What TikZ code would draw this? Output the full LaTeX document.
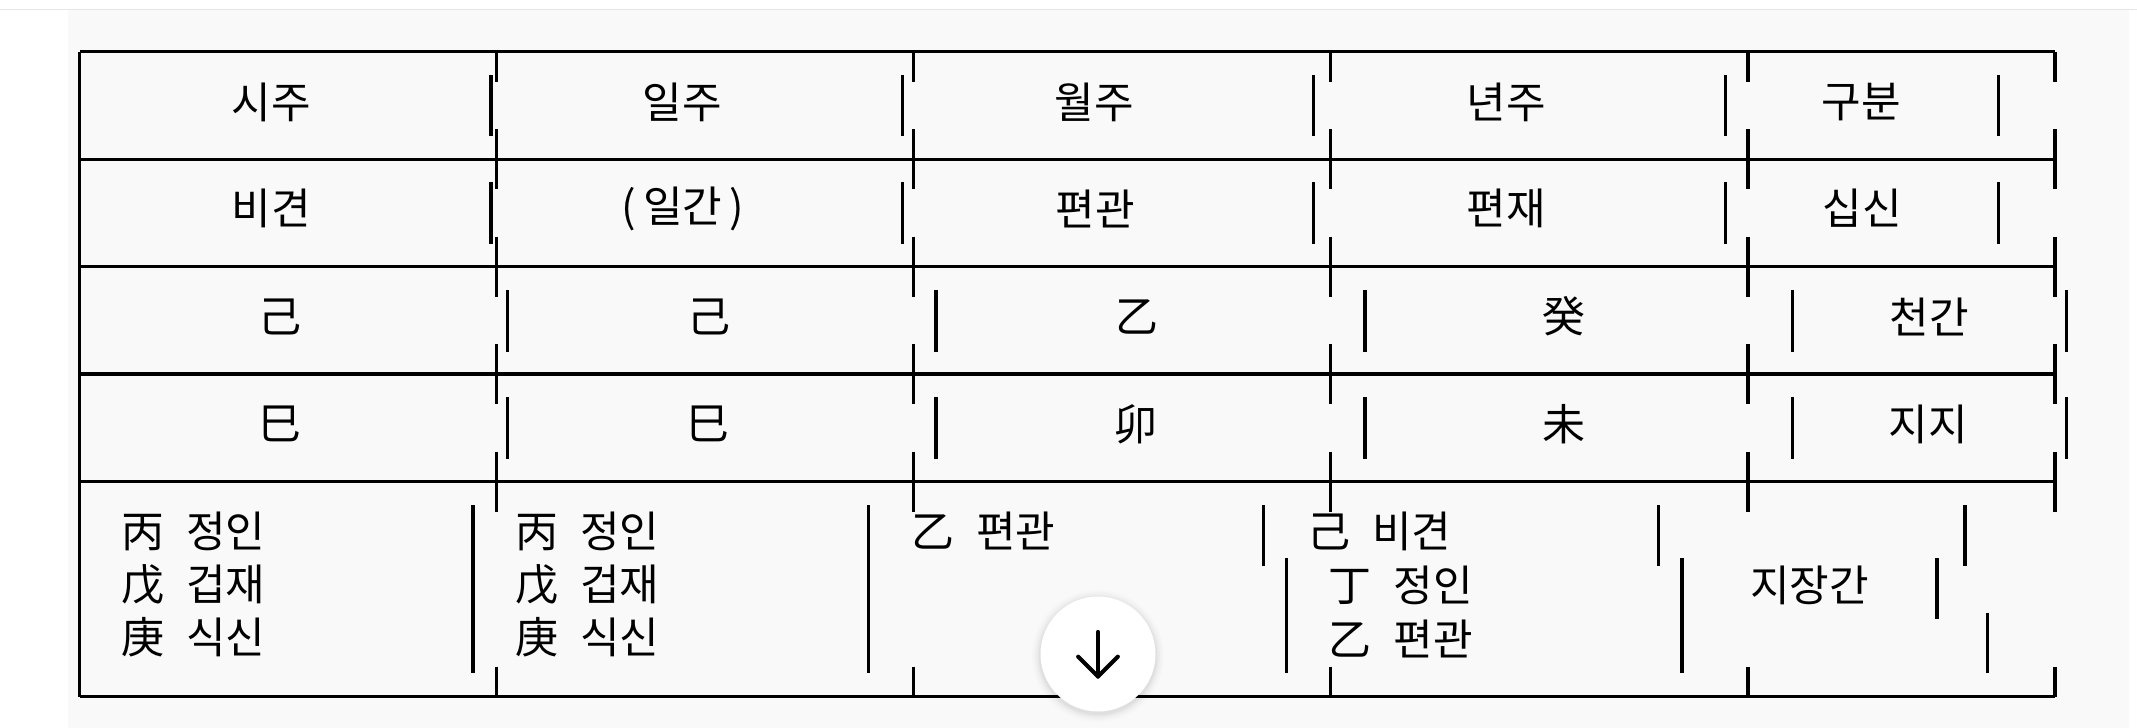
\documentclass[tikz,border=0pt]{standalone}
\usepackage{fontspec}
\newfontfamily\kr{Noto Sans CJK KR}
\definecolor{pagebg}{HTML}{F9F9F9}
\definecolor{sepline}{HTML}{E6E6E6}
\begin{document}
\begin{tikzpicture}[x=1bp,y=-1bp,
  rule/.style={line width=3.5bp,black},
  pipe/.style={line width=3.4bp,black},
  cell/.style={inner sep=0pt,font=\kr\fontsize{43bp}{52bp}\selectfont},
  lcell/.style={cell,anchor=west},
  btnstyle/.style={circle,fill=white,minimum size=115bp,inner sep=0pt}]
\useasboundingbox (0,0) rectangle (2137,728);
\fill[white] (0,0) rectangle (2137,728);
\fill[pagebg] (68,10) rectangle (2129,728);
\draw[sepline,line width=1.5bp] (0,9.3) -- (2137,9.3);
% horizontal rules
\foreach \yy in {51.7,159.3,266.7,374,481.7,696.7}
  \draw[rule] (79.5,\yy) -- (2055,\yy);
% left edge
\draw[rule] (79.5,51.7) -- (79.5,696.7);
% divider segments around horizontal rules
\foreach \xx in {496.5,913.5,1330.5,1748,2055}{
  \draw[rule] (\xx,51.7) -- (\xx,81.7);
  \foreach \yy in {159.3,266.7,374,481.7}
    \draw[rule] (\xx,\yy-30) -- (\xx,\yy+30);
  \draw[rule] (\xx,666.5) -- (\xx,696.7);
}
% cell pipes rows 1-2
\foreach \xx in {491,902.3,1313.6,1725.5,1998.3}{
  \draw[pipe] (\xx,75.5) -- (\xx,136);
  \draw[pipe] (\xx,182.5) -- (\xx,243.5);
}
% cell pipes rows 3-4
\foreach \xx in {507.6,935.8,1365.1,1792.3,2066.2}{
  \draw[pipe] (\xx,290) -- (\xx,352);
  \draw[pipe] (\xx,397) -- (\xx,458.5);
}
% cell pipes row 5
\draw[pipe] (473,505) -- (473,673);
\draw[pipe] (868.4,505) -- (868.4,673);
\draw[pipe] (1263.6,505) -- (1263.6,566);
\draw[pipe] (1286.6,558) -- (1286.6,673);
\draw[pipe] (1658.6,505) -- (1658.6,566);
\draw[pipe] (1682,558) -- (1682,673);
\draw[pipe] (1965,505) -- (1965,566);
\draw[pipe] (1937,558) -- (1937,619);
\draw[pipe] (1987.7,612.7) -- (1987.7,673);
% row 1
\node[cell] (r1c1) at (271,102.5) {시주};
\node[cell] (r1c2) at (682.5,102.5) {일주};
\node[cell] (r1c3) at (1094.5,102.5) {월주};
\node[cell] (r1c4) at (1506,102.5) {년주};
\node[cell] (r1c5) at (1861.5,102.5) {구분};
% row 2
\node[cell] (r2c1) at (271,208.5) {비견};
\node[cell] (r2c2) at (683,208.5) {(\hspace{7bp}일간\hspace{7bp})};
\node[cell] (r2c3) at (1095,208.5) {편관};
\node[cell] (r2c4) at (1506.5,208.5) {편재};
\node[cell] (r2c5) at (1862,208.5) {십신};
% row 3
\node[cell] (r3c1) at (280,316.5) {己};
\node[cell] (r3c2) at (708.5,316.5) {己};
\node[cell] (r3c3) at (1137,316.5) {乙};
\node[cell] (r3c4) at (1564,316.5) {癸};
\node[cell] (r3c5) at (1929,316.5) {천간};
% row 4
\node[cell] (r4c1) at (280,424) {巳};
\node[cell] (r4c2) at (708,424) {巳};
\node[cell] (r4c3) at (1136,424) {卯};
\node[cell] (r4c4) at (1564,424) {未};
\node[cell] (r4c5) at (1928,424) {지지};
% row 5
\node[lcell] (a1) at (121,531) {丙\hspace{22bp}정인};
\node[lcell] (a2) at (121,584.5) {戊\hspace{22bp}겁재};
\node[lcell] (a3) at (121,637.5) {庚\hspace{22bp}식신};
\node[lcell] (b1) at (515,531) {丙\hspace{22bp}정인};
\node[lcell] (b2) at (515,584.5) {戊\hspace{22bp}겁재};
\node[lcell] (b3) at (515,637.5) {庚\hspace{22bp}식신};
\node[lcell] (c1) at (911,531) {乙\hspace{22bp}편관};
\node[lcell] (d1) at (1307,531) {己\hspace{22bp}비견};
\node[lcell] (d2) at (1328.5,585) {丁\hspace{22bp}정인};
\node[lcell] (d3) at (1328.5,638.5) {乙\hspace{22bp}편관};
\node[lcell] (e1) at (1750,585.8) {지장간};
% scroll button
\foreach \r/\o in {66/0.012,64/0.015,62/0.02,60.5/0.025,59/0.03}
  \fill[black,opacity=\o] (1098,656) circle (\r);
\node[btnstyle] (btn) at (1098,654) {};
\coordinate (atop) at ([yshift=22bp]btn.center);
\coordinate (atip) at ([yshift=-22.5bp]btn.center);
\coordinate (aleft) at ([xshift=-19.8bp,yshift=-2.7bp]btn.center);
\coordinate (aright) at ([xshift=19.8bp,yshift=-2.7bp]btn.center);
\draw[line width=4.2bp,line cap=round,line join=round] (atop) -- (atip);
\draw[line width=4.2bp,line cap=round,line join=round] (aleft) -- (atip) -- (aright);
\end{tikzpicture}
\end{document}
